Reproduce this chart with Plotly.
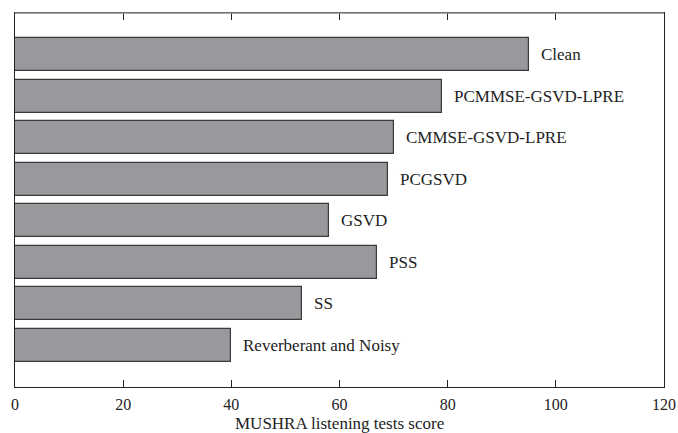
import plotly.graph_objects as go

# MUSHRA scores per method, listed bottom to top
methods = ["Reverberant and Noisy", "SS", "PSS", "GSVD", "PCGSVD",
           "CMMSE-GSVD-LPRE", "PCMMSE-GSVD-LPRE", "Clean"]
scores = [40, 53, 67, 58, 69, 70, 79, 95]
x_ticks = [0, 20, 40, 60, 80, 100, 120]
x_title = "MUSHRA listening tests score"

font_family = "Liberation Serif, Times New Roman, serif"
positions = list(range(len(methods)))

fig = go.Figure()
fig.add_trace(go.Bar(
    x=scores,
    y=positions,
    orientation="h",
    width=0.79,
    marker=dict(color="#98999c", line=dict(color="#3a3a3a", width=1.2)),
    hoverinfo="skip",
))

for pos, name, val in zip(positions, methods, scores):
    fig.add_annotation(
        x=val, y=pos, text=name, showarrow=False,
        xanchor="left", yanchor="middle", xshift=10,
        font=dict(family=font_family, size=17, color="#222222"),
    )

# axis title placed under the tick labels
fig.add_annotation(
    x=0.5, y=0, xref="paper", yref="paper", text=x_title, showarrow=False,
    xanchor="center", yanchor="top", yshift=-25,
    font=dict(family=font_family, size=17, color="#222222"),
)

# lighter top border of the frame
fig.add_shape(type="line", xref="paper", yref="paper",
              x0=0, x1=1, y0=1, y1=1,
              line=dict(color="#8c8c8c", width=1.5))

fig.update_layout(
    width=678, height=433,
    margin=dict(l=15, r=14, t=13, b=46),
    paper_bgcolor="white", plot_bgcolor="white",
    showlegend=False,
    font=dict(family=font_family, size=15, color="#222222"),
    bargap=0,
)
fig.update_xaxes(
    range=[0, 120], tickvals=x_ticks, ticktext=[str(t) for t in x_ticks],
    ticks="inside", ticklen=7, tickwidth=1, tickcolor="#222222",
    ticklabelstandoff=3,
    tickfont=dict(family=font_family, size=16),
    showline=True, linecolor="#222222", linewidth=1.2, mirror="ticks",
    showgrid=False, zeroline=False, automargin=False,
)
fig.update_yaxes(
    range=[-1, 8], showticklabels=False, ticks="",
    showline=True, linecolor="#222222", linewidth=1.2, mirror=True,
    showgrid=False, zeroline=False, automargin=False,
)

fig.write_html("out.html")
